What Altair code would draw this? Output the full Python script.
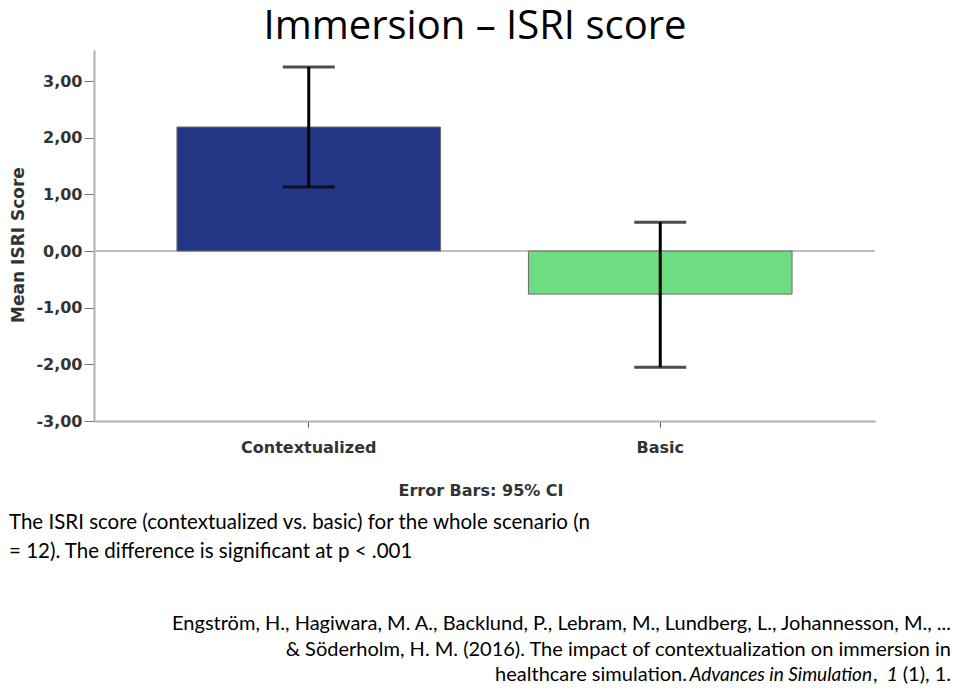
import altair as alt
import pandas as pd

categories = ["Contextualized", "Basic"]
means = [2.19, -0.76]
ci_low = [1.13, -2.05]
ci_high = [3.25, 0.51]
y_ticks = [-3, -2, -1, 0, 1, 2, 3]
bar_colors = ["#233686", "#6fdc82"]

title_text = "Immersion – ISRI score"
y_title = "Mean ISRI Score"
note_text = "Error Bars: 95% CI"
body_lines = [
    "The  ISRI score (contextualized  vs. basic) for the whole scenario (n",
    "= 12). The difference  is significant  at p < .001",
]
cite_lines = [
    "Engström, H., Hagiwara, M. A., Backlund, P., Lebram, M., Lundberg, L., Johannesson, M., ...",
    "& Söderholm, H. M. (2016). The impact of contextualization on immersion in",
]
cite_last = ["healthcare simulation.", "Advances in Simulation", ",", "1", "(1), 1."]

df = pd.DataFrame({"category": categories, "mean": means, "lo": ci_low, "hi": ci_high})

W, H = 781, 371
AX_FONT = "DejaVu Sans"
TXT_FONT = "Lato"

xenc = alt.X(
    "category:N",
    sort=categories,
    scale=alt.Scale(paddingInner=0.25, paddingOuter=0.236),
    axis=alt.Axis(
        title=None, labelAngle=0, domainColor="#b0b0b0", domainWidth=2,
        tickColor="#555", tickSize=6, labelPadding=12,
        labelFont=AX_FONT, labelFontWeight="bold", labelFontSize=16, labelColor="#333",
    ),
)
yscale = alt.Scale(domain=[-3, 3.55], nice=False, zero=True)

base = alt.Chart(df)

zero_line = base.mark_rule(color="#c0c0c0", strokeWidth=2).encode(y=alt.Y(datum=0, scale=yscale))

bars = base.mark_bar(stroke="#6a6a6a", strokeWidth=1).encode(
    x=xenc,
    y=alt.Y(
        "mean:Q", scale=yscale,
        axis=alt.Axis(
            values=y_ticks, title=None, grid=False,
            labelExpr="replace(replace(format(datum.value, '.2f'), '.', ','), '\u2212', '-')",
            domainColor="#b0b0b0", domainWidth=2, tickColor="#777", tickSize=10,
            labelPadding=2, labelFont=AX_FONT, labelFontWeight="bold",
            labelFontSize=16, labelColor="#333",
        ),
    ),
    color=alt.Color("category:N", scale=alt.Scale(domain=categories, range=bar_colors), legend=None),
)

err = base.mark_rule(color="black", strokeWidth=3).encode(
    x=alt.X("category:N", sort=categories), y=alt.Y("lo:Q", scale=yscale), y2="hi:Q"
)
cap_hi = base.mark_tick(color="black", thickness=3, size=52).encode(
    x=alt.X("category:N", sort=categories), y=alt.Y("hi:Q", scale=yscale)
)
cap_lo = base.mark_tick(color="black", thickness=3, size=52).encode(
    x=alt.X("category:N", sort=categories), y=alt.Y("lo:Q", scale=yscale)
)


def label(text, x, y, size, font=TXT_FONT, align="left", weight="normal", style="normal", angle=0, color="black"):
    return alt.Chart(pd.DataFrame({"t": [text]})).mark_text(
        align=align, baseline="alphabetic", fontSize=size, font=font,
        fontWeight=weight, fontStyle=style, angle=angle, color=color,
    ).encode(x=alt.value(x), y=alt.value(y), text="t:N")


texts = [
    label(title_text, 381, -11, 40, font="Open Sans", align="center"),
    label(y_title, -70, 195, 17, font=AX_FONT, align="center", weight="bold", angle=270, color="#333"),
    label(note_text, 387, 446, 16, font=AX_FONT, align="center", weight="bold", color="#333"),
    label(body_lines[0], -85, 479, 20.5),
    label(body_lines[1], -85, 508, 20.5),
    label(cite_lines[0], 857, 580, 20, align="right"),
    label(cite_lines[1], 857, 606, 20, align="right"),
    label(cite_last[0], 593, 631, 20, align="right"),
    label(cite_last[1], 778, 631, 19, style="italic", align="right"),
    label(cite_last[2], 779, 631, 20),
    label(cite_last[3], 804, 631, 20, style="italic", align="right"),
    label(cite_last[4], 857, 631, 20, align="right"),
]

chart = alt.layer(zero_line, bars, err, cap_hi, cap_lo, *texts).properties(
    width=W, height=H,
    autosize=alt.AutoSizeParams(type="none"),
    padding={"left": 86, "top": 42, "right": 77, "bottom": 266},
).configure_view(stroke=None)

chart.save("out.html", embed_options={"renderer": "svg", "actions": False})
